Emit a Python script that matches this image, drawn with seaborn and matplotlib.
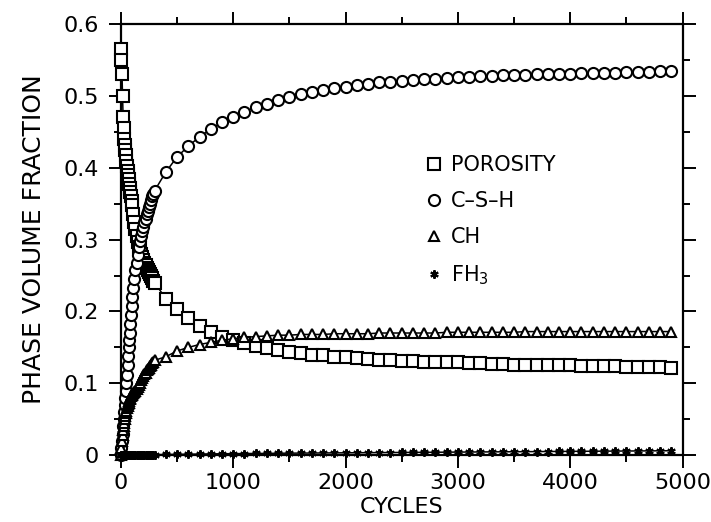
import matplotlib
matplotlib.use('Agg')
import matplotlib.pyplot as plt
from matplotlib.lines import Line2D
from matplotlib.ticker import MultipleLocator, FuncFormatter
import seaborn as sns

# 读数: 横轴循环数 (前期密集, 之后每100循环)
cycles = [0, 5, 10, 15, 20, 25, 30, 35, 40, 45, 50,
          55, 60, 65, 70, 75, 80, 85, 90, 95, 100,
          110, 120, 130, 140, 150, 160, 170, 180, 190, 200,
          210, 220, 230, 240, 250, 260, 270, 280, 290, 300,
          400, 500, 600, 700, 800, 900, 1000, 1100, 1200, 1300,
          1400, 1500, 1600, 1700, 1800, 1900, 2000, 2100, 2200, 2300,
          2400, 2500, 2600, 2700, 2800, 2900, 3000, 3100, 3200, 3300,
          3400, 3500, 3600, 3700, 3800, 3900, 4000, 4100, 4200, 4300,
          4400, 4500, 4600, 4700, 4800, 4900]

porosity = [0.565, 0.55, 0.53, 0.50, 0.47, 0.455, 0.44, 0.432, 0.425, 0.418, 0.41,
            0.402, 0.395, 0.39, 0.385, 0.378, 0.372, 0.366, 0.36, 0.354, 0.348,
            0.336, 0.325, 0.315, 0.305, 0.297, 0.29, 0.285, 0.28, 0.276, 0.272,
            0.268, 0.265, 0.261, 0.258, 0.255, 0.252, 0.249, 0.246, 0.243, 0.24,
            0.218, 0.204, 0.191, 0.180, 0.171, 0.165, 0.160, 0.156, 0.152, 0.149,
            0.146, 0.144, 0.142, 0.140, 0.139, 0.137, 0.136, 0.135, 0.134, 0.133,
            0.132, 0.131, 0.131, 0.130, 0.130, 0.129, 0.129, 0.128, 0.128, 0.127,
            0.127, 0.126, 0.126, 0.126, 0.125, 0.125, 0.125, 0.124, 0.124, 0.124,
            0.124, 0.123, 0.123, 0.123, 0.123, 0.122]

csh = [0.0, 0.01, 0.02, 0.03, 0.04, 0.05, 0.06, 0.07, 0.08, 0.09, 0.10,
       0.112, 0.125, 0.138, 0.15, 0.16, 0.17, 0.183, 0.195, 0.208, 0.22,
       0.233, 0.245, 0.257, 0.268, 0.279, 0.29, 0.298, 0.305, 0.312, 0.318,
       0.324, 0.329, 0.335, 0.34, 0.345, 0.35, 0.355, 0.36, 0.364, 0.368,
       0.394, 0.415, 0.430, 0.443, 0.454, 0.463, 0.471, 0.478, 0.484, 0.489,
       0.494, 0.498, 0.502, 0.505, 0.508, 0.511, 0.513, 0.515, 0.517, 0.519,
       0.520, 0.521, 0.522, 0.523, 0.524, 0.525, 0.526, 0.5265, 0.527, 0.528,
       0.5285, 0.529, 0.5295, 0.530, 0.5305, 0.531, 0.531, 0.5315, 0.532, 0.532,
       0.5325, 0.533, 0.533, 0.5335, 0.534, 0.534]

ch = [0.0, 0.01, 0.02, 0.028, 0.035, 0.04, 0.045, 0.05, 0.055, 0.059, 0.062,
      0.065, 0.068, 0.071, 0.073, 0.076, 0.078, 0.08, 0.082, 0.084, 0.085,
      0.087, 0.088, 0.09, 0.092, 0.095, 0.098, 0.101, 0.104, 0.107, 0.11,
      0.113, 0.115, 0.118, 0.12, 0.122, 0.124, 0.126, 0.128, 0.13, 0.132,
      0.137, 0.145, 0.150, 0.154, 0.157, 0.160, 0.162, 0.164, 0.165, 0.166,
      0.167, 0.167, 0.168, 0.168, 0.168, 0.169, 0.169, 0.169, 0.169, 0.170,
      0.170, 0.170, 0.170, 0.170, 0.170, 0.171, 0.171, 0.171, 0.171, 0.171,
      0.171, 0.171, 0.172, 0.172, 0.172, 0.172, 0.172, 0.172, 0.172, 0.172,
      0.172, 0.172, 0.172, 0.172, 0.172, 0.172]

fh3 = [0.0, 0.0, 0.0, 0.0, 0.0, 0.0, 0.0, 0.0, 0.0, 0.0, 0.0,
       0.0, 0.0, 0.0, 0.0, 0.0, 0.0001, 0.0001, 0.0001, 0.0001, 0.0001,
       0.0001, 0.0002, 0.0002, 0.0002, 0.0003, 0.0003, 0.0003, 0.0004, 0.0004, 0.0004,
       0.0005, 0.0005, 0.0005, 0.0005, 0.0006, 0.0006, 0.0006, 0.0006, 0.0006, 0.0007,
       0.001, 0.0012, 0.0014, 0.0016, 0.0018, 0.002, 0.0021, 0.0023, 0.0024, 0.0025,
       0.0027, 0.0028, 0.0029, 0.003, 0.0031, 0.0032, 0.0033, 0.0034, 0.0035, 0.0036,
       0.0037, 0.0038, 0.0039, 0.004, 0.0041, 0.0042, 0.0043, 0.0044, 0.0045, 0.0046,
       0.0047, 0.0048, 0.0049, 0.005, 0.0051, 0.0052, 0.0053, 0.0054, 0.0055, 0.0056,
       0.0057, 0.0058, 0.0059, 0.006, 0.0061, 0.0062]

labels = ['POROSITY', 'C\u2013S\u2013H', 'CH', 'FH$_3$']
markers = ['s', 'o', '^', (6, 2, 0)]
sizes = [8, 8, 7.5, 6]

sns.set_style('ticks')
plt.rcParams['font.family'] = ['DejaVu Sans']
plt.rcParams['mathtext.default'] = 'regular'
plt.rcParams['text.color'] = 'black'
plt.rcParams['axes.labelcolor'] = 'black'

fig = plt.figure(figsize=(7.11, 5.22), dpi=100)
ax = fig.add_axes([0.170, 0.128, 0.790, 0.826])

series = [porosity, csh, ch, fh3]
for vals, lab, mk, ms in zip(series, labels, markers, sizes):
    sns.lineplot(x=cycles, y=vals, ax=ax, sort=False, errorbar=None,
                 color='black', linewidth=1.1, marker=mk, markersize=ms,
                 markerfacecolor='white', markeredgecolor='black',
                 markeredgewidth=1.5, clip_on=False, zorder=3)

ax.set_xlim(0, 5000)
ax.set_ylim(0, 0.6)
ax.xaxis.set_major_locator(MultipleLocator(1000))
ax.xaxis.set_minor_locator(MultipleLocator(500))
ax.yaxis.set_major_locator(MultipleLocator(0.1))
ax.yaxis.set_minor_locator(MultipleLocator(0.05))
ax.yaxis.set_major_formatter(FuncFormatter(lambda v, p: '0' if abs(v) < 1e-9 else f'{v:.1f}'))
ax.xaxis.set_major_formatter(FuncFormatter(lambda v, p: f'{int(round(v))}'))

ax.tick_params(which='both', direction='out', top=True, right=True,
               width=1.4, labelsize=16, colors='black')
ax.tick_params(which='major', length=9, pad=4)
ax.tick_params(axis='y', which='major', pad=7)
ax.tick_params(which='minor', length=5)
for sp in ax.spines.values():
    sp.set_visible(True)
    sp.set_linewidth(1.6)
    sp.set_color('black')

ax.set_xlabel('CYCLES', fontsize=16, labelpad=3)
ax.set_ylabel('PHASE VOLUME FRACTION', fontsize=18, labelpad=12)

# 图例只显示标记
handles = [Line2D([], [], linestyle='none', marker=mk, markersize=ms,
                  markerfacecolor='white', markeredgecolor='black',
                  markeredgewidth=1.5) for mk, ms in zip(markers, sizes)]
ax.legend(handles, labels, loc='upper left', bbox_to_anchor=(0.51, 0.74),
          frameon=False, fontsize=15, handlelength=0.8, handletextpad=0.4,
          labelspacing=0.78, labelcolor='black')

fig.savefig('out.png', dpi=100)
plt.close(fig)
